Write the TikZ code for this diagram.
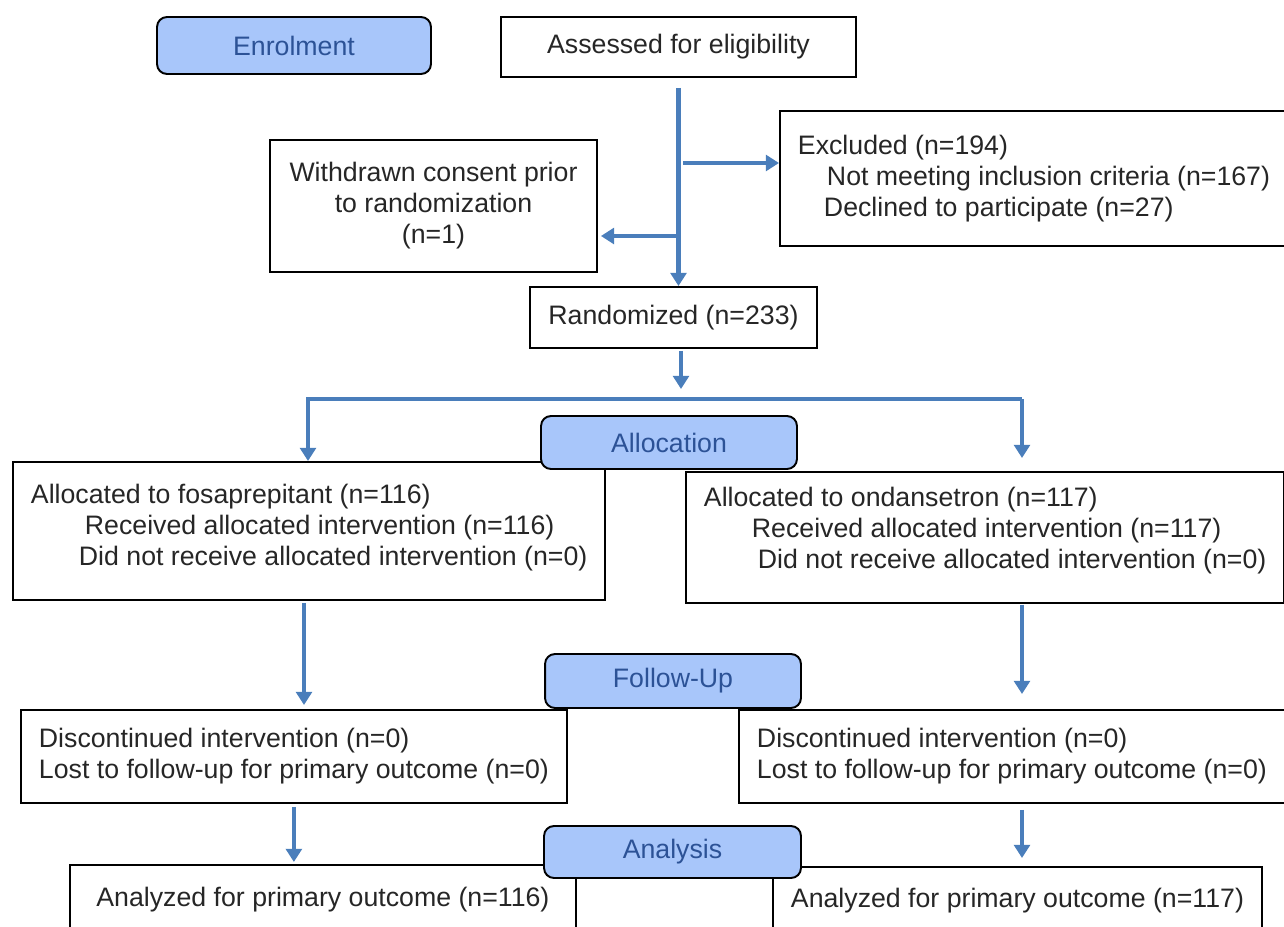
\documentclass[tikz,border=0pt]{standalone}
\usepackage{fontspec}
\setmainfont{Liberation Sans}
\usetikzlibrary{arrows.meta}

\definecolor{flowblue}{RGB}{74,126,187}
\definecolor{tagfill}{RGB}{168,198,250}
\definecolor{tagtext}{RGB}{44,82,150}
\definecolor{ink}{RGB}{38,38,38}

\begin{document}
\begin{tikzpicture}[x=0.02cm,y=-0.02cm,
  every node/.style={font=\fontsize{15.2}{17.6}\selectfont,text=ink},
  box/.style={draw=black,line width=1.1pt,fill=white,inner xsep=0.36cm},
  tag/.style={draw=black,line width=1.1pt,rounded corners=0.2cm,fill=tagfill,text=tagtext,minimum width=5.12cm,minimum height=1.06cm},
  arr/.style={draw=flowblue,line width=2.3pt,-{Triangle[width=9pt,length=7.5pt]}}]
  \path[clip,use as bounding box] (0,0) rectangle (1284,926);

  % enrolment
  \node[tag,minimum width=5.48cm,minimum height=1.14cm] (enrol) at (294,45.5) {Enrolment};
  \node[box,minimum width=7.1cm,minimum height=1.2cm] (assess) at (678.5,47) {Assessed for eligibility};
  \node[box,anchor=north west,minimum height=2.7cm,align=left] (excl) at (779,110)
    {Excluded (n=194)\\\hspace*{0.58cm}Not meeting inclusion criteria (n=167)\\\hspace*{0.52cm}Declined to participate (n=27)};
  \node[box,minimum width=6.54cm,minimum height=2.64cm,align=center] (withdr) at (433.5,206)
    {Withdrawn consent prior\\to randomization\\(n=1)};
  \node[box,minimum width=5.74cm,minimum height=1.22cm] (rand) at (673.5,317.5) {Randomized (n=233)};

  % allocation
  \node[box,anchor=north west,minimum height=2.76cm,align=left] (allocL) at (12,461)
    {Allocated to fosaprepitant (n=116)\\\hspace*{1.08cm}Received allocated intervention (n=116)\\\hspace*{0.96cm}Did not receive allocated intervention (n=0)\rule[-6.8pt]{0pt}{0pt}};
  \node[box,anchor=north west,minimum height=2.62cm,align=left] (allocR) at (685,471)
    {Allocated to ondansetron (n=117)\\\hspace*{0.96cm}Received allocated intervention (n=117)\\\hspace*{1.08cm}Did not receive allocated intervention (n=0)\rule[-10.8pt]{0pt}{0pt}};

  % follow-up
  \node[box,anchor=north west,minimum height=1.86cm,align=left] (follL) at (20,709)
    {Discontinued intervention (n=0)\\Lost to follow-up for primary outcome (n=0)};
  \node[box,anchor=north west,minimum height=1.86cm,align=left] (follR) at (738,709)
    {Discontinued intervention (n=0)\\Lost to follow-up for primary outcome (n=0)};

  % analysis
  \node[box,anchor=north west,minimum width=10.12cm,minimum height=1.4cm] (anaL) at (69,864) {Analyzed for primary outcome (n=116)};
  \node[box,anchor=north west,minimum height=1.36cm] (anaR) at (772,866) {Analyzed for primary outcome (n=117)};

  \node[tag] (allocTag) at (669,442.5) {Allocation};
  \node[tag,minimum height=1.08cm] (followTag) at (673,681) {Follow-Up};
  \node[tag,minimum width=5.14cm,minimum height=1.04cm] (anaTag) at (672.5,852) {Analysis};

  \coordinate (toExcl) at (683,163);
  \coordinate (toWd) at (676,236);
  \coordinate (split) at (681,399);
  \coordinate (spL) at (308,399);
  \coordinate (spR) at (1022,399);
  \coordinate (colL) at (304,0);
  \coordinate (colR) at (1022,0);

  \draw[arr,shorten <=0.2cm] (assess.south) -- (assess.south |- rand.north);
  \draw[arr] (toExcl) -- (toExcl -| excl.west);
  \draw[arr,shorten >=0.06cm] (toWd) -- (toWd -| withdr.east);
  \draw[arr,shorten <=0.04cm,shorten >=0.2cm] (rand.south -| split) -- (split);
  \draw[arr] (spR) -- (spL) -- (spL |- allocL.north);
  \draw[arr,shorten >=0.26cm] (spR) -- (spR |- allocR.north);
  \draw[arr,shorten <=0.04cm,shorten >=0.08cm] (allocL.south -| colL) -- (follL.north -| colL);
  \draw[arr,shorten <=0.02cm,shorten >=0.3cm] (allocR.south -| colR) -- (follR.north -| colR);
  \draw[arr,shorten <=0.06cm,shorten >=0.04cm] (follL.south) -- (follL.south |- anaL.north);
  \draw[arr,shorten <=0.12cm,shorten >=0.16cm] (follR.south -| colR) -- (anaR.north -| colR);
\end{tikzpicture}
\end{document}
